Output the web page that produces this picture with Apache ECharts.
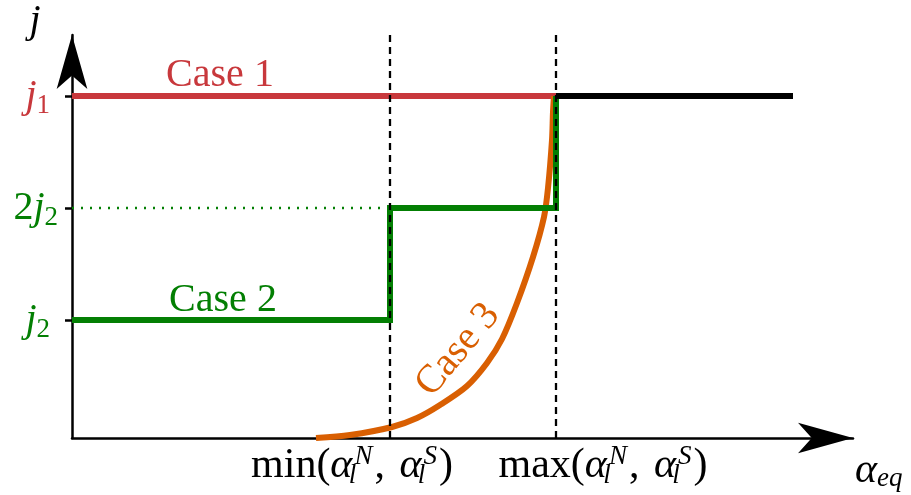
<!DOCTYPE html>
<html><head><meta charset="utf-8">
<script src="https://cdn.jsdelivr.net/npm/echarts@6/dist/echarts.min.js"></script>
<style>html,body{margin:0;padding:0;background:#fff}#c{width:911px;height:495px}</style>
</head><body><div id="c"></div>
<script>
// ---- data (schematic units) ----
const xGuides = [318, 484];            // min(...) and max(...) positions
const xLabelValues = [280, 531];       // where the two x labels are centred
const xLabelNames = ['min', 'max'];
const yTickValues = [118, 230, 342];   // j2, 2j2, j1
const yTickNames = ['j2', '2j2', 'j1'];
const case1X = [0, 620];
const case1Y = [342, 342];
const tailX = [484, 721];
const tailY = [342, 342];
const case2X = [0, 318, 318, 484, 484];
const case2Y = [118, 118, 230, 230, 342];
const refX = [0, 318];
const refY = [230, 230];
const case3X = [244, 278, 320, 345, 368, 395, 415, 430, 445, 461, 472, 476, 480, 481, 482];
const case3Y = [0, 3, 11, 20, 33, 52, 75, 99, 135, 181, 221, 250, 298, 326, 342];
const guideTop = 403;
const caseLabels = ['Case 1', 'Case 2', 'Case 3'];
const caseLabelPos = [[148, 363], [151, 138], [386, 88]];

const RED = '#c8383c', GREEN = '#037f03', ORANGE = '#d95f02', BLACK = '#000';
const FONT = 'Liberation Serif';
const zip = (xs, ys) => xs.map((x, i) => [x, ys[i]]);

const chart = echarts.init(document.getElementById('c'), null, {renderer: 'canvas'});

function caseMark(i, color, rotate) {
  return {
    symbol: 'circle', symbolSize: 1, itemStyle: {color: 'rgba(0,0,0,0)'},
    label: {show: true, position: 'inside', formatter: caseLabels[i], color: color,
      fontSize: 40, fontFamily: FONT, rotate: rotate || 0},
    data: [{coord: caseLabelPos[i]}]
  };
}

const yRich = {
  rj: {color: RED, fontFamily: FONT, fontStyle: 'italic', fontSize: 40, lineHeight: 46},
  rs: {color: RED, fontFamily: FONT, fontSize: 27, lineHeight: 30, verticalAlign: 'bottom'},
  gn: {color: GREEN, fontFamily: FONT, fontSize: 40, lineHeight: 46},
  gj: {color: GREEN, fontFamily: FONT, fontStyle: 'italic', fontSize: 40, lineHeight: 46},
  gs: {color: GREEN, fontFamily: FONT, fontSize: 27, lineHeight: 30, verticalAlign: 'bottom'},
  gap: {width: 8, fontSize: 10}
};
function yFmt(v) {
  const name = yTickNames[yTickValues.indexOf(v)];
  if (name === 'j1') return '{rj|j}{rs|1}{gap| }';
  if (name === 'j2') return '{gj|j}{gs|2}{gap| }';
  return '{gn|2}{gj|j}{gs|2}';
}
const xRich = {
  r: {fontFamily: FONT, fontSize: 42, lineHeight: 46, color: BLACK},
  a: {fontFamily: FONT, fontSize: 42, lineHeight: 46, fontStyle: 'italic', color: BLACK},
  sp: {fontFamily: FONT, fontSize: 27, fontStyle: 'italic', lineHeight: 34, verticalAlign: 'top', color: BLACK, padding: [0, 2, 0, 2]},
  sb: {fontFamily: FONT, fontSize: 27, fontStyle: 'italic', lineHeight: 16, verticalAlign: 'bottom', width: 0, color: BLACK},
  g: {width: 4, fontSize: 10}
};
function xFmt(v) {
  const name = xLabelNames[xLabelValues.indexOf(v)];
  return '{r|' + name + '(}{a|α}{sb|l}{sp|N}{r|,}{g| }{r| }{a|α}{sb|l}{sp|S}{r|)}';
}

chart.setOption({
  animation: false,
  backgroundColor: '#fff',
  grid: {left: 72, right: 58, top: 35, bottom: 57, containLabel: false, outerBoundsMode: 'none'},
  xAxis: {
    type: 'value', min: 0, max: 781,
    name: '{a|α}{s|eq}', nameLocation: 'end', nameGap: 2,
    nameTextStyle: {verticalAlign: 'top', padding: [12, 0, 0, 0],
      rich: {a: {fontFamily: FONT, fontStyle: 'italic', fontSize: 42, lineHeight: 42},
             s: {fontFamily: FONT, fontStyle: 'italic', fontSize: 27, lineHeight: 30, verticalAlign: 'bottom'}}},
    axisLine: {show: true, onZero: false, symbol: ['none', 'arrow'], symbolSize: [23, 55],
      lineStyle: {color: BLACK, width: 2.5}},
    axisTick: {show: false},
    splitLine: {show: false},
    axisLabel: {show: true, customValues: xLabelValues, formatter: xFmt, rich: xRich, margin: 5}
  },
  yAxis: {
    type: 'value', min: 0, max: 403,
    name: 'j', nameLocation: 'end', nameGap: -6,
    nameTextStyle: {fontFamily: FONT, fontStyle: 'italic', fontSize: 40, color: BLACK,
      align: 'center', padding: [0, 74, 0, 0]},
    axisLine: {show: true, onZero: false, symbol: ['none', 'arrow'], symbolSize: [23, 54],
      lineStyle: {color: BLACK, width: 2.5}},
    axisTick: {show: true, customValues: yTickValues, length: 7, lineStyle: {color: BLACK, width: 2.5}},
    splitLine: {show: false},
    axisLabel: {show: true, customValues: yTickValues, formatter: yFmt, rich: yRich, margin: 14}
  },
  series: [
    {type: 'line', name: 'Case 1', data: zip(case1X, case1Y), symbol: 'none', z: 2,
      lineStyle: {color: RED, width: 6}, markPoint: caseMark(0, RED)},
    {type: 'line', name: 'Case 3', data: zip(case3X, case3Y), symbol: 'none', z: 3,
      smooth: 0.3,
      lineStyle: {color: ORANGE, width: 6}, markPoint: caseMark(2, ORANGE, 50)},
    {type: 'line', name: 'ref', data: zip(refX, refY), symbol: 'none', z: 3,
      lineStyle: {color: GREEN, width: 2.5, type: [2, 7]}},
    {type: 'line', name: 'Case 2', data: zip(case2X, case2Y), symbol: 'none', z: 4,
      lineStyle: {color: GREEN, width: 6, join: 'miter'}, markPoint: caseMark(1, GREEN)},
    {type: 'line', name: 'tail', data: zip(tailX, tailY), symbol: 'none', z: 5,
      lineStyle: {color: BLACK, width: 6}},
    {type: 'line', name: 'guide1', data: [[xGuides[0], 0], [xGuides[0], guideTop]], symbol: 'none', z: 6,
      lineStyle: {color: BLACK, width: 2.3, type: [7, 5]}},
    {type: 'line', name: 'guide2', data: [[xGuides[1], 0], [xGuides[1], guideTop]], symbol: 'none', z: 6,
      lineStyle: {color: BLACK, width: 2.3, type: [7, 5]}}
  ]
});
</script></body></html>
